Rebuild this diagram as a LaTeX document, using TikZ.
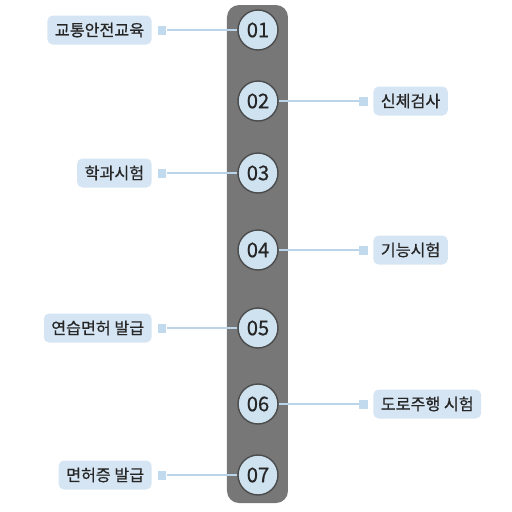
\documentclass[tikz,border=0pt]{standalone}
\usepackage{fontspec}
\newfontfamily\krfont{Noto Sans CJK KR}[FakeBold=0.6]
\usetikzlibrary{positioning}
\definecolor{barGray}{HTML}{777777}
\definecolor{tagBlue}{HTML}{D5E5F3}
\definecolor{markBlue}{HTML}{C2DAEE}
\definecolor{lineBlue}{HTML}{BAD4E9}
\definecolor{dotBlue}{HTML}{CFE2F0}

\begin{document}
\begin{tikzpicture}[
  x=0.02cm, y=-0.02cm,
  every node/.style={font=\krfont, text=black!85},
  stepdot/.style={draw=black!70, line width=0.8pt, circle, fill=dotBlue,
    minimum size=0.8cm, inner sep=0pt, font=\krfont\fontsize{11.5}{12}\selectfont},
  tagbox/.style={fill=tagBlue, rounded corners=3pt, minimum height=0.58cm,
    inner xsep=0.15cm, inner ysep=0pt, font=\krfont\fontsize{9.2}{10}\selectfont},
  tagmark/.style={fill=markBlue, minimum size=0.18cm, inner sep=0pt},
  link/.style={draw=lineBlue, line width=1.1pt}
]
  \useasboundingbox (0,0) rectangle (512,512);
  \fill[barGray, rounded corners=0.24cm] (227,5) rectangle (288,503);

  \foreach \n/\y/\txt/\bx/\qx/\anc in {
      01/30/교통안전교육/152/162/east,
      02/101/신체검사/373/364/west,
      03/173/학과시험/152/162/east,
      04/250/기능시험/373/364/west,
      05/328/연습면허 발급/152/162/east,
      06/404/도로주행 시험/373/364/west,
      07/475/면허증 발급/152/162/east}
  {
    \node[stepdot] (S\n) at (258,\y) {\n};
    \node[tagbox, anchor=\anc] (T\n) at (\bx,\y) {\txt};
    \node[tagmark] (Q\n) at (\qx,\y) {};
    \draw[link] (Q\n) -- (S\n);
  }
\end{tikzpicture}
\end{document}
